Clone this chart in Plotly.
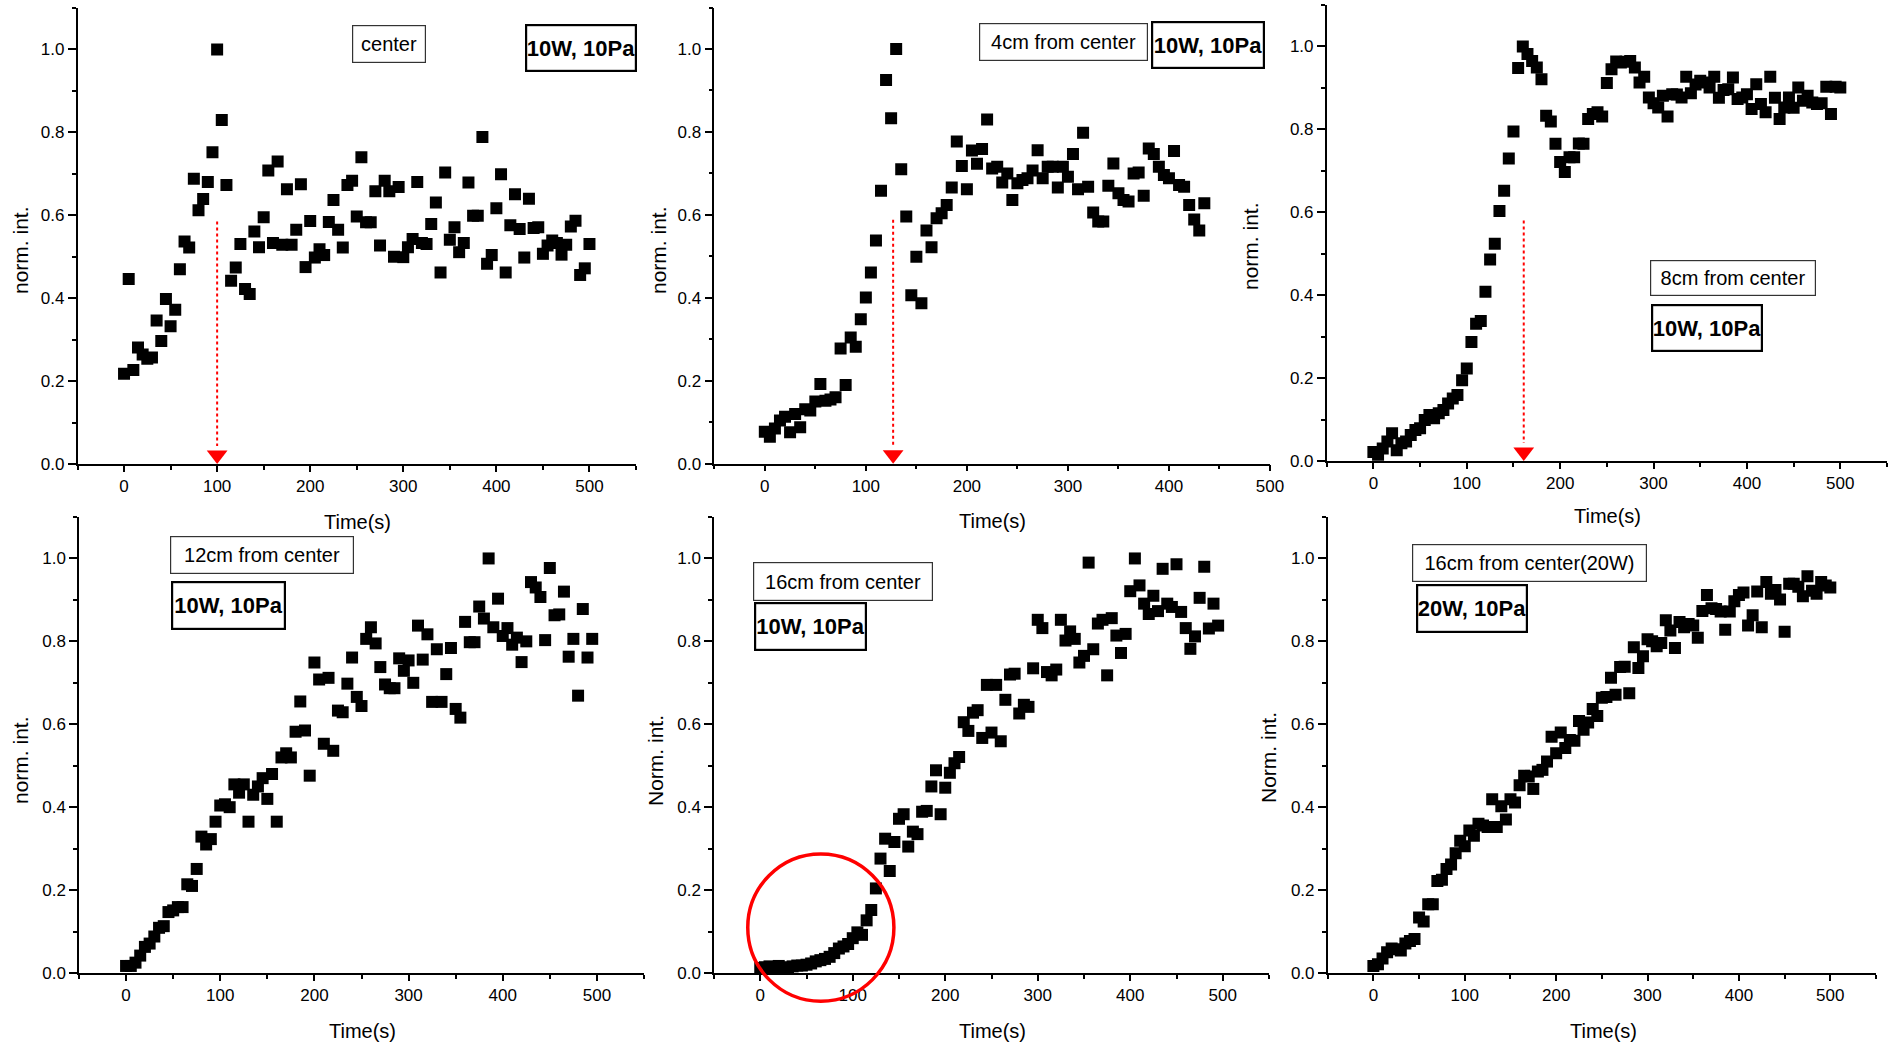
import plotly.graph_objects as go

W, H = 1892, 1045
FONT = "Liberation Sans, Arial, sans-serif"

# Sampling times (s), 5 s step
time_s = [0, 5, 10, 15, 20, 25, 30, 35, 40, 45, 50, 55, 60, 65, 70, 75, 80, 85, 90, 95,
          100, 105, 110, 115, 120, 125, 130, 135, 140, 145, 150, 155, 160, 165, 170, 175,
          180, 185, 190, 195, 200, 205, 210, 215, 220, 225, 230, 235, 240, 245, 250, 255,
          260, 265, 270, 275, 280, 285, 290, 295, 300, 305, 310, 315, 320, 325, 330, 335,
          340, 345, 350, 355, 360, 365, 370, 375, 380, 385, 390, 395, 400, 405, 410, 415,
          420, 425, 430, 435, 440, 445, 450, 455, 460, 465, 470, 475, 480, 485, 490, 495, 500]

# Normalised emission intensity at each position
int_center = [0.218, 0.446, 0.227, 0.281, 0.264, 0.254, 0.257, 0.346, 0.297, 0.398,
              0.332, 0.372, 0.470, 0.537, 0.522, 0.688, 0.612, 0.639, 0.680, 0.752,
              1.000, 0.830, 0.673, 0.442, 0.474, 0.531, 0.422, 0.410, 0.561, 0.523,
              0.595, 0.708, 0.533, 0.730, 0.529, 0.663, 0.529, 0.565, 0.675, 0.475,
              0.586, 0.498, 0.518, 0.504, 0.584, 0.637, 0.565, 0.522, 0.673, 0.683,
              0.597, 0.740, 0.583, 0.583, 0.658, 0.527, 0.683, 0.658, 0.500, 0.668,
              0.499, 0.523, 0.543, 0.680, 0.533, 0.531, 0.579, 0.631, 0.462, 0.703,
              0.541, 0.571, 0.511, 0.533, 0.679, 0.599, 0.599, 0.789, 0.483, 0.504,
              0.617, 0.699, 0.462, 0.576, 0.651, 0.567, 0.498, 0.640, 0.569, 0.571,
              0.507, 0.527, 0.539, 0.533, 0.505, 0.529, 0.573, 0.587, 0.456, 0.472,
              0.531]

int_4cm = [0.077, 0.065, 0.085, 0.104, 0.113, 0.076, 0.120, 0.088, 0.131, 0.128,
           0.150, 0.192, 0.152, 0.155, 0.160, 0.278, 0.190, 0.304, 0.282, 0.348,
           0.401, 0.461, 0.538, 0.658, 0.925, 0.833, 1.000, 0.710, 0.596, 0.406,
           0.499, 0.387, 0.562, 0.522, 0.592, 0.604, 0.624, 0.666, 0.777, 0.718,
           0.662, 0.755, 0.723, 0.759, 0.830, 0.712, 0.716, 0.678, 0.700, 0.636,
           0.676, 0.684, 0.688, 0.707, 0.756, 0.688, 0.716, 0.716, 0.666, 0.716,
           0.692, 0.747, 0.662, 0.798, 0.668, 0.606, 0.584, 0.584, 0.670, 0.724,
           0.652, 0.636, 0.632, 0.700, 0.702, 0.646, 0.760, 0.747, 0.716, 0.696,
           0.688, 0.754, 0.672, 0.668, 0.624, 0.589, 0.562, 0.628]

int_8cm = [0.022, 0.015, 0.030, 0.047, 0.067, 0.026, 0.043, 0.047, 0.063, 0.075,
           0.079, 0.099, 0.111, 0.103, 0.115, 0.123, 0.139, 0.151, 0.159, 0.195,
           0.223, 0.287, 0.331, 0.338, 0.408, 0.486, 0.524, 0.603, 0.652, 0.730,
           0.795, 0.948, 1.000, 0.982, 0.965, 0.949, 0.921, 0.833, 0.819, 0.765,
           0.721, 0.697, 0.733, 0.733, 0.766, 0.765, 0.825, 0.837, 0.841, 0.831,
           0.912, 0.945, 0.964, 0.961, 0.963, 0.965, 0.949, 0.913, 0.927, 0.877,
           0.863, 0.853, 0.881, 0.831, 0.885, 0.884, 0.877, 0.927, 0.887, 0.908,
           0.917, 0.913, 0.901, 0.927, 0.876, 0.895, 0.897, 0.925, 0.873, 0.877,
           0.885, 0.849, 0.909, 0.861, 0.841, 0.927, 0.876, 0.825, 0.853, 0.877,
           0.852, 0.901, 0.869, 0.881, 0.865, 0.861, 0.863, 0.903, 0.837, 0.903,
           0.901]

int_12cm = [0.017, 0.017, 0.025, 0.042, 0.063, 0.071, 0.088, 0.109, 0.113, 0.147,
            0.151, 0.159, 0.159, 0.214, 0.210, 0.251, 0.329, 0.310, 0.323, 0.365,
            0.404, 0.407, 0.400, 0.455, 0.435, 0.455, 0.365, 0.430, 0.450, 0.470,
            0.420, 0.480, 0.365, 0.520, 0.530, 0.520, 0.582, 0.655, 0.585, 0.476,
            0.749, 0.708, 0.553, 0.712, 0.536, 0.633, 0.629, 0.698, 0.761, 0.666,
            0.644, 0.806, 0.834, 0.795, 0.738, 0.696, 0.687, 0.687, 0.759, 0.729,
            0.754, 0.700, 0.838, 0.756, 0.817, 0.654, 0.781, 0.654, 0.721, 0.784,
            0.637, 0.616, 0.847, 0.798, 0.798, 0.884, 0.855, 1.000, 0.834, 0.903,
            0.813, 0.832, 0.792, 0.809, 0.750, 0.800, 0.943, 0.930, 0.907, 0.803,
            0.977, 0.863, 0.865, 0.920, 0.763, 0.806, 0.669, 0.878, 0.761, 0.806]

int_16cm = [0.012, 0.014, 0.016, 0.014, 0.017, 0.012, 0.014, 0.016, 0.018, 0.018,
            0.020, 0.023, 0.028, 0.031, 0.034, 0.039, 0.048, 0.059, 0.064, 0.070,
            0.084, 0.098, 0.092, 0.127, 0.152, 0.204, 0.276, 0.324, 0.246, 0.316,
            0.372, 0.383, 0.305, 0.341, 0.335, 0.389, 0.391, 0.450, 0.489, 0.383,
            0.447, 0.483, 0.506, 0.521, 0.605, 0.584, 0.628, 0.634, 0.567, 0.695,
            0.580, 0.695, 0.559, 0.659, 0.720, 0.722, 0.626, 0.647, 0.642, 0.735,
            0.852, 0.832, 0.726, 0.718, 0.732, 0.852, 0.802, 0.824, 0.806, 0.749,
            0.765, 0.990, 0.781, 0.843, 0.852, 0.718, 0.856, 0.814, 0.772, 0.818,
            0.921, 1.000, 0.935, 0.891, 0.866, 0.910, 0.873, 0.975, 0.891, 0.883,
            0.986, 0.871, 0.832, 0.782, 0.812, 0.905, 0.980, 0.831, 0.891, 0.838]

int_16cm_20w = [0.017, 0.021, 0.035, 0.050, 0.059, 0.057, 0.054, 0.071, 0.077, 0.082,
                0.134, 0.124, 0.166, 0.166, 0.222, 0.225, 0.251, 0.262, 0.289, 0.319,
                0.306, 0.344, 0.331, 0.360, 0.356, 0.352, 0.419, 0.352, 0.402, 0.370,
                0.419, 0.411, 0.453, 0.476, 0.474, 0.444, 0.486, 0.490, 0.510, 0.570,
                0.530, 0.580, 0.543, 0.562, 0.560, 0.608, 0.587, 0.604, 0.637, 0.620,
                0.664, 0.666, 0.712, 0.671, 0.738, 0.739, 0.675, 0.786, 0.736, 0.764,
                0.805, 0.800, 0.788, 0.796, 0.851, 0.826, 0.784, 0.847, 0.834, 0.842,
                0.838, 0.809, 0.873, 0.912, 0.880, 0.878, 0.872, 0.828, 0.872, 0.897,
                0.912, 0.918, 0.838, 0.863, 0.920, 0.834, 0.943, 0.915, 0.924, 0.901,
                0.823, 0.939, 0.939, 0.932, 0.909, 0.957, 0.922, 0.915, 0.943, 0.935,
                0.930]

series = [int_center, int_4cm, int_8cm, int_12cm, int_16cm, int_16cm_20w]

# Labels drawn in each panel
position_labels = ["center", "4cm from center", "8cm from center",
                   "12cm from center", "16cm from center", "16cm from center(20W)"]
condition_labels = ["10W, 10Pa", "10W, 10Pa", "10W, 10Pa",
                    "10W, 10Pa", "10W, 10Pa", "20W, 10Pa"]
y_titles = ["norm. int.", "norm. int.", "norm. int.",
            "norm. int.", "Norm. int.", "Norm. int."]
x_title = "Time(s)"

# Discharge-onset markers (time of the peak, top of the dotted guide)
arrow_times = [100, 127, 161]
arrow_tops = [0.585, 0.588, 0.58]

# Highlight ring on the slow initial rise at 16 cm (data units)
ring_time = (-13.5, 144.5)
ring_int = (-0.068, 0.287)

# Plot-area geometry in pixels: left, right, top, bottom, x-range
frames = [
    dict(l=77.5, r=636, t=8.0, b=464.0, xr=(-50, 550)),
    dict(l=714.3, r=1270, t=7.5, b=463.7, xr=(-50, 500)),
    dict(l=1326.7, r=1887, t=5.0, b=461.0, xr=(-50, 550)),
    dict(l=79.0, r=644, t=517.0, b=973.0, xr=(-50, 550)),
    dict(l=714.0, r=1269, t=517.0, b=973.0, xr=(-50, 550)),
    dict(l=1327.7, r=1876, t=517.0, b=973.0, xr=(-50, 550)),
]
Y_RANGE = (0, 1.1)

# Text placement (pixel centres / box sizes)
x_title_pos = [(357, 522), (992, 521), (1607, 516), (362, 1031), (992, 1031), (1603, 1031)]
y_title_pos = [(20, 250), (658, 250), (1251, 246), (20, 760), (655, 761), (1268, 758)]
pos_boxes = [(389, 44, 74, 38), (1063.5, 42, 169, 38), (1733, 277.5, 166, 36),
             (262, 554.5, 184, 38), (843, 581.5, 180, 39), (1529, 563, 235, 38)]
cond_boxes = [(581, 48, 112, 48), (1208, 45, 114, 48), (1707, 328, 112, 48),
              (228.5, 605.5, 115, 49), (810.5, 626.5, 113, 49), (1472, 608.5, 112, 49)]


def px_x(v):
    return v / W


def px_y(v):
    return 1 - v / H


fig = go.Figure()
layout = dict(width=W, height=H,
              margin=dict(l=0, r=0, t=0, b=0, pad=0, autoexpand=False),
              paper_bgcolor="white", plot_bgcolor="white", showlegend=False,
              font=dict(family=FONT, color="black"))

for i, (vals, fr) in enumerate(zip(series, frames), start=1):
    sfx = "" if i == 1 else str(i)
    layout["xaxis" + sfx] = dict(
        domain=[px_x(fr["l"]), px_x(fr["r"])], range=list(fr["xr"]),
        anchor="y" + sfx, showline=True, linecolor="black", linewidth=1.5,
        ticks="outside", ticklen=6, tickwidth=1.5, tickcolor="black",
        tick0=0, dtick=100, showgrid=False, zeroline=False, automargin=False,
        tickfont=dict(family=FONT, size=17, color="black"),
        minor=dict(tick0=0, dtick=50, ticks="outside", ticklen=4,
                   tickwidth=1.5, tickcolor="black", showgrid=False),
        fixedrange=True,
    )
    layout["yaxis" + sfx] = dict(
        domain=[px_y(fr["b"]), px_y(fr["t"])], range=list(Y_RANGE),
        anchor="x" + sfx, showline=True, linecolor="black", linewidth=1.5,
        ticks="outside", ticklen=8, tickwidth=1.5, tickcolor="black",
        tick0=0, dtick=0.2, tickformat=".1f", showgrid=False, zeroline=False,
        automargin=False,
        tickfont=dict(family=FONT, size=17, color="black"),
        minor=dict(tick0=0, dtick=0.1, ticks="outside", ticklen=4,
                   tickwidth=1.5, tickcolor="black", showgrid=False),
        fixedrange=True,
    )
    fig.add_trace(go.Scatter(
        x=time_s[:len(vals)], y=vals, mode="markers",
        marker=dict(symbol="square", size=12, color="black", line=dict(width=0)),
        xaxis="x" + sfx, yaxis="y" + sfx, hoverinfo="skip",
    ))

# Dotted red guides with arrowheads down to the time axis
for i, (t, top) in enumerate(zip(arrow_times, arrow_tops), start=1):
    sfx = "" if i == 1 else str(i)
    fr = frames[i - 1]
    unit_px = (fr["b"] - fr["t"]) / (Y_RANGE[1] - Y_RANGE[0])
    head = 18
    tip_off = (head / 2) / unit_px
    fig.add_trace(go.Scatter(
        x=[t, t], y=[top, 2.0 * tip_off], mode="lines",
        line=dict(color="red", width=2, dash="dot"),
        xaxis="x" + sfx, yaxis="y" + sfx, hoverinfo="skip",
    ))
    fig.add_trace(go.Scatter(
        x=[t], y=[tip_off], mode="markers",
        marker=dict(symbol="triangle-down", size=head, color="red", line=dict(width=0)),
        xaxis="x" + sfx, yaxis="y" + sfx, hoverinfo="skip", cliponaxis=False,
    ))

# Ring on panel 5, mapped from its data coordinates to the page
fr5 = frames[4]


def data_to_paper_x(t, fr):
    x0, x1 = fr["xr"]
    return px_x(fr["l"] + (t - x0) / (x1 - x0) * (fr["r"] - fr["l"]))


def data_to_paper_y(v, fr):
    return px_y(fr["b"] - (v - Y_RANGE[0]) / (Y_RANGE[1] - Y_RANGE[0]) * (fr["b"] - fr["t"]))


layout["shapes"] = [dict(
    type="circle", xref="paper", yref="paper",
    x0=data_to_paper_x(ring_time[0], fr5), x1=data_to_paper_x(ring_time[1], fr5),
    y0=data_to_paper_y(ring_int[0], fr5), y1=data_to_paper_y(ring_int[1], fr5),
    line=dict(color="red", width=3.5), layer="above",
)]

annotations = []
for (cx, cy) in x_title_pos:
    annotations.append(dict(text=x_title, x=px_x(cx), y=px_y(cy), xref="paper", yref="paper",
                            xanchor="center", yanchor="middle", showarrow=False,
                            font=dict(family=FONT, size=20, color="black")))
for (cx, cy), txt in zip(y_title_pos, y_titles):
    annotations.append(dict(text=txt, x=px_x(cx), y=px_y(cy), xref="paper", yref="paper",
                            xanchor="center", yanchor="middle", showarrow=False, textangle=-90,
                            font=dict(family=FONT, size=21, color="black")))
for (cx, cy, w, h), txt in zip(pos_boxes, position_labels):
    bw = 1.2
    annotations.append(dict(text=txt, x=px_x(cx), y=px_y(cy), xref="paper", yref="paper",
                            xanchor="center", yanchor="middle", showarrow=False,
                            width=w - 2 * bw, height=h - 2 * bw, borderpad=0,
                            bordercolor="#333333", borderwidth=bw, bgcolor="white",
                            align="center", valign="middle",
                            font=dict(family=FONT, size=20, color="black")))
for (cx, cy, w, h), txt in zip(cond_boxes, condition_labels):
    bw = 2.2
    annotations.append(dict(text="<b>" + txt + "</b>", x=px_x(cx), y=px_y(cy),
                            xref="paper", yref="paper",
                            xanchor="center", yanchor="middle", showarrow=False,
                            width=w - 2 * bw, height=h - 2 * bw, borderpad=0,
                            bordercolor="black", borderwidth=bw, bgcolor="white",
                            align="center", valign="middle",
                            font=dict(family=FONT, size=22, color="black")))
layout["annotations"] = annotations

fig.update_layout(**layout)
fig.write_html("out.html", config={"displayModeBar": False})
